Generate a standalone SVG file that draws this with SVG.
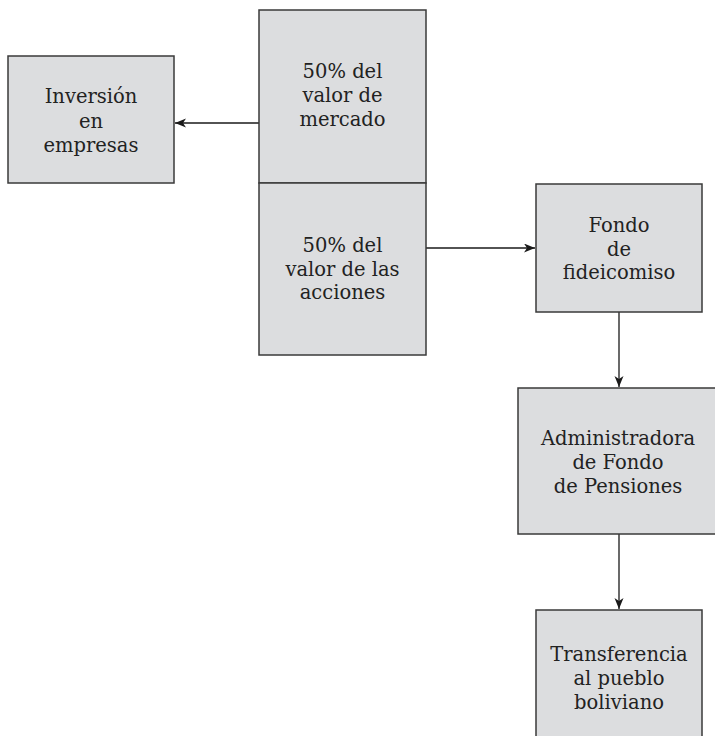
<svg xmlns="http://www.w3.org/2000/svg" width="715" height="736" viewBox="0 0 715 736">
<style>
.box{fill:#dcdddf;stroke:#3a3a3a;stroke-width:1.5}
.t{font-family:"DejaVu Serif","Liberation Serif",serif;font-size:19.5px;fill:#222222;text-anchor:middle}
.c{stroke:#1a1a1a;stroke-width:1.3;fill:none;marker-end:url(#ah)}
</style>
<defs>
<marker id="ah" markerUnits="userSpaceOnUse" markerWidth="12" markerHeight="10" refX="11" refY="4.5" orient="auto">
<path d="M0,0 L11,4.5 L0,9 L3,4.5 z" fill="#1a1a1a"/>
</marker>
</defs>
<rect width="715" height="736" fill="#ffffff"/>
<g id="connectors">
<line class="c" x1="259" y1="123" x2="175" y2="123"/>
<line class="c" x1="426" y1="248" x2="535" y2="248"/>
<line class="c" x1="619" y1="312" x2="619" y2="387"/>
<line class="c" x1="619" y1="534" x2="619" y2="609"/>
</g>
<g id="inversion">
<rect class="box" x="8" y="56" width="166" height="127"/>
<text class="t" x="91" y="103">Inversión</text>
<text class="t" x="91" y="128">en</text>
<text class="t" x="91" y="152">empresas</text>
</g>
<g id="valor-mercado">
<rect class="box" x="259" y="10" width="167" height="173"/>
<text class="t" x="342.5" y="78">50% del</text>
<text class="t" x="342.5" y="102">valor de</text>
<text class="t" x="342.5" y="126">mercado</text>
</g>
<g id="valor-acciones">
<rect class="box" x="259" y="183" width="167" height="172"/>
<text class="t" x="342.5" y="252">50% del</text>
<text class="t" x="342.5" y="276">valor de las</text>
<text class="t" x="342.5" y="299">acciones</text>
</g>
<g id="fondo">
<rect class="box" x="536" y="184" width="166" height="128"/>
<text class="t" x="619" y="232">Fondo</text>
<text class="t" x="619" y="256">de</text>
<text class="t" x="619" y="279">fideicomiso</text>
</g>
<g id="administradora">
<rect class="box" x="518" y="388" width="204" height="146"/>
<text class="t" x="618" y="445">Administradora</text>
<text class="t" x="618" y="469">de Fondo</text>
<text class="t" x="618" y="493">de Pensiones</text>
</g>
<g id="transferencia">
<rect class="box" x="536" y="610" width="166" height="140"/>
<text class="t" x="619" y="661">Transferencia</text>
<text class="t" x="619" y="685">al pueblo</text>
<text class="t" x="619" y="709">boliviano</text>
</g>
</svg>
